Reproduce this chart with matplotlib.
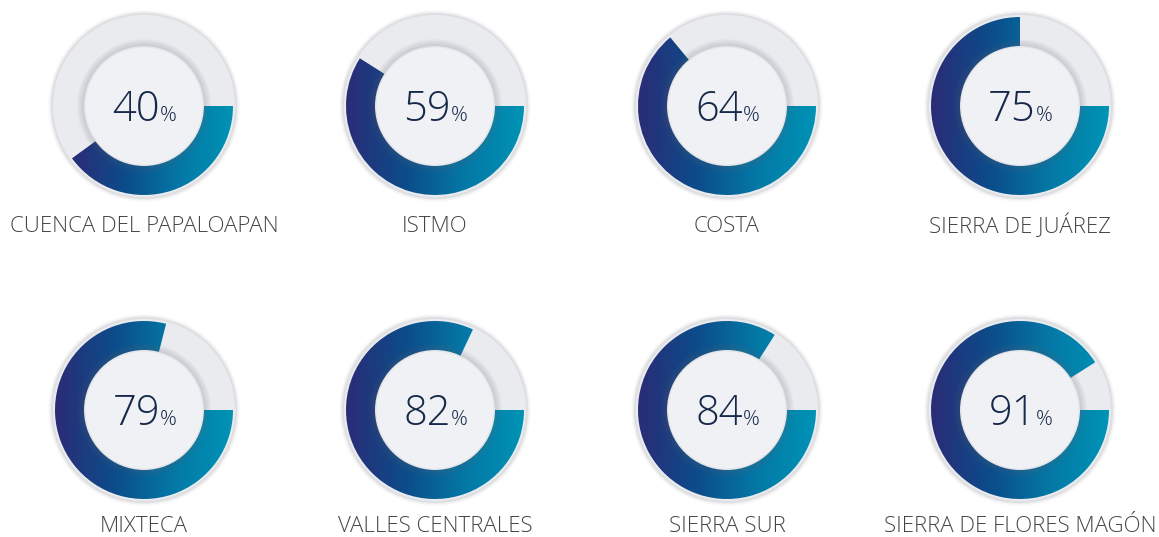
import numpy as np
import matplotlib
matplotlib.use("Agg")
import matplotlib.pyplot as plt
from matplotlib.patches import Circle, Wedge
from matplotlib.colors import LinearSegmentedColormap

labels = ["CUENCA DEL PAPALOAPAN", "ISTMO", "COSTA", "SIERRA DE JUÁREZ",
          "MIXTECA", "VALLES CENTRALES", "SIERRA SUR", "SIERRA DE FLORES MAGÓN"]
values = [40, 59, 64, 75, 79, 82, 84, 91]

W, H = 1159, 537
fig = plt.figure(figsize=(W / 100, H / 100), dpi=100)
ax = fig.add_axes([0, 0, 1, 1])
ax.set_xlim(0, W)
ax.set_ylim(0, H)
ax.set_aspect("equal")
ax.axis("off")
fig.patch.set_facecolor("white")

cmap = LinearSegmentedColormap.from_list(
    "g", ["#2b2c76", "#0c4c8a", "#0478a6", "#0093b6"])

col_x = [144, 435, 727, 1020]
row_y = [H - 106, H - 410]
label_y = [H - 226, H - 527]

R_disk = 94
R_out = 89
R_in = 60
gap = np.linspace(0, 1, 256).reshape(1, -1)
FONT = "Open Sans"

for i, (lab, v) in enumerate(zip(labels, values)):
    cx = col_x[i % 4]
    cy = row_y[i // 4]
    # outer disk with soft border
    for k, a in enumerate([0.05, 0.08, 0.12]):
        ax.add_patch(Circle((cx, cy), R_disk + 2 - k, color="#b8b9bd", alpha=a, lw=0, zorder=1))
    ax.add_patch(Circle((cx, cy), R_disk - 1, color="#dedfe2", lw=0, zorder=2))
    ax.add_patch(Circle((cx, cy), R_disk - 3, color="#eaebee", lw=0, zorder=2))
    # gradient arc
    ang = 360 * v / 100
    wedge = Wedge((cx, cy), R_out, -ang, 0, width=R_out - R_in + 4, lw=0,
                  facecolor="none", edgecolor="none")
    ax.add_patch(wedge)
    if ang >= 180:
        xmin = cx - R_out
    else:
        c = np.cos(np.radians(ang))
        xmin = cx + (R_out * c if c < 0 else (R_in - 4) * c)
    xmax = cx + R_out
    im = ax.imshow(gap, cmap=cmap, extent=[xmin, xmax, cy - R_out, cy + R_out],
                   aspect="auto", zorder=3, interpolation="bilinear")
    im.set_clip_path(wedge)
    # inner circle shadow
    for k in range(8):
        ax.add_patch(Circle((cx, cy), R_in + 7 - k, color="#6a6e78",
                            alpha=0.035, lw=0, zorder=4))
    ax.add_patch(Circle((cx, cy), R_in, color="#e4e5e9", lw=0, zorder=5))
    ax.add_patch(Circle((cx, cy), R_in - 1.5, color="#f0f1f4", lw=0, zorder=5))
    # value text
    ax.text(cx + 16, cy - 15, f"{v}", ha="right", va="baseline",
            fontsize=30, color="#16294a", family=FONT, fontweight=300, zorder=6)
    ax.text(cx + 16, cy - 15, "%", ha="left", va="baseline",
            fontsize=15, color="#16294a", family=FONT, fontweight=300, zorder=6)
    ax.text(cx, label_y[i // 4], lab, ha="center", va="center",
            fontsize=16, color="#454545", family=FONT, fontweight=300)

fig.savefig("out.png", dpi=100)
